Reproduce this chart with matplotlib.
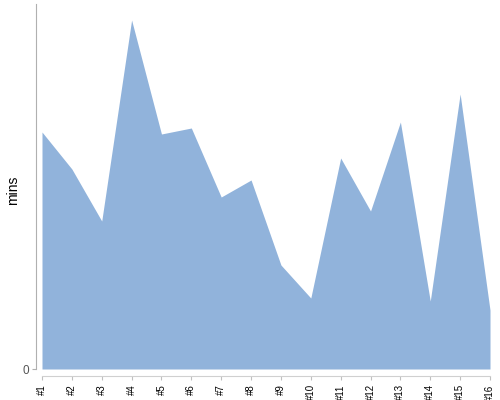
import matplotlib
matplotlib.use("Agg")
import matplotlib.pyplot as plt

plt.rcParams['font.family'] = ['Liberation Sans', 'DejaVu Sans']

labels = ["#1", "#2", "#3", "#4", "#5", "#6", "#7", "#8", "#9", "#10",
          "#11", "#12", "#13", "#14", "#15", "#16"]
mins = [23.7, 20.0, 14.8, 34.9, 23.5, 24.1, 17.2, 18.9, 10.4, 7.1,
        21.1, 15.8, 24.7, 6.8, 27.5, 5.9]

fig = plt.figure(figsize=(5, 4), dpi=100)
ax = fig.add_axes([0.084, 0.0775, 0.896, 0.9125])
x = list(range(len(labels)))
ax.fill_between(x, 0, mins, color='#91b3db', linewidth=0)
ax.set_xlim(0, len(labels) - 1)
ax.set_ylim(0, 36.5)

for s in ['top', 'right']:
    ax.spines[s].set_visible(False)
ax.spines['left'].set_position(('outward', 4))
ax.spines['left'].set_color('#b0b0b0')
ax.spines['bottom'].set_position(('outward', 5))
ax.spines['bottom'].set_color('#d0d0d0')

ax.set_xticks(x)
ax.set_xticklabels(labels, rotation=90, fontsize=7)
ax.tick_params(axis='x', length=3, color='#c0c0c0', pad=3)
ax.set_yticks([0])
ax.set_yticklabels(['0'], fontsize=8.5, color='#555555')
ax.tick_params(axis='y', length=3, color='#b0b0b0', pad=2)
ax.set_ylabel('mins', fontsize=10)
ax.yaxis.set_label_coords(-0.05, 0.49)

fig.savefig('out.png', dpi=100)
